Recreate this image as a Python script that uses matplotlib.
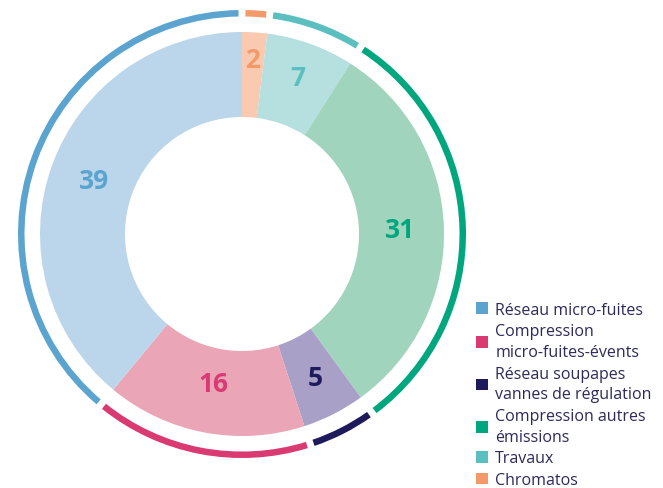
import numpy as np
import matplotlib.pyplot as plt
from matplotlib.patches import Patch, Wedge

plt.rcParams['font.family'] = ['Open Sans', 'DejaVu Sans']

categories = [
    "Chromatos",
    "Travaux",
    "Compression autres\némissions",
    "Réseau soupapes\nvannes de régulation",
    "Compression\nmicro-fuites-évents",
    "Réseau micro-fuites",
]
values = [2, 7, 31, 5, 16, 39]
strong = ["#F39A6B", "#5BBFC0", "#00A67E", "#1E1A5C", "#D93A72", "#5BA4CF"]
light = ["#F9C9B0", "#B5E0DF", "#A0D4BD", "#A8A0C6", "#EAA5B6", "#BBD6EA"]
label_r = [175, 166, 158, 161, 152, 157]

W, H = 663, 489
cx, cy = 242, H - 235

fig = plt.figure(figsize=(W / 100, H / 100), dpi=100)
ax = fig.add_axes([0, 0, 1, 1])

# inner donut
wedges, _ = ax.pie(values, radius=202, center=(cx, cy), startangle=90,
                   counterclock=False, colors=light,
                   wedgeprops=dict(width=85, linewidth=0))

# thin outer ring, one arc per slice with a small gap between arcs
gap = 0.9
for w, c in zip(wedges, strong):
    ax.add_patch(Wedge((cx, cy), 224, w.theta1 + gap, w.theta2 - gap,
                       width=6.5, facecolor=c, edgecolor="none"))

for w, v, c, r in zip(wedges, values, strong, label_r):
    mid = np.deg2rad((w.theta1 + w.theta2) / 2)
    ax.text(cx + r * np.cos(mid), cy + r * np.sin(mid), str(v),
            ha="center", va="center", color=c, fontsize=19, fontweight="bold")

ax.set_xlim(0, W)
ax.set_ylim(0, H)
ax.set_aspect("equal")
ax.axis("off")

order = [5, 4, 3, 2, 1, 0]
handles = [Patch(facecolor=strong[i]) for i in order]
labels = [categories[i] for i in order]
leg = fig.legend(handles, labels, loc="lower left",
                 bbox_to_anchor=(468 / W, -8 / H),
                 frameon=False, fontsize=11.5, labelcolor="#2D2A5A",
                 handlelength=0.75, handleheight=0.75, handletextpad=0.45,
                 labelspacing=0.36, borderpad=0.0)
for t in leg.get_texts():
    t.set_linespacing(1.38)

fig.savefig("out.png", dpi=100)
